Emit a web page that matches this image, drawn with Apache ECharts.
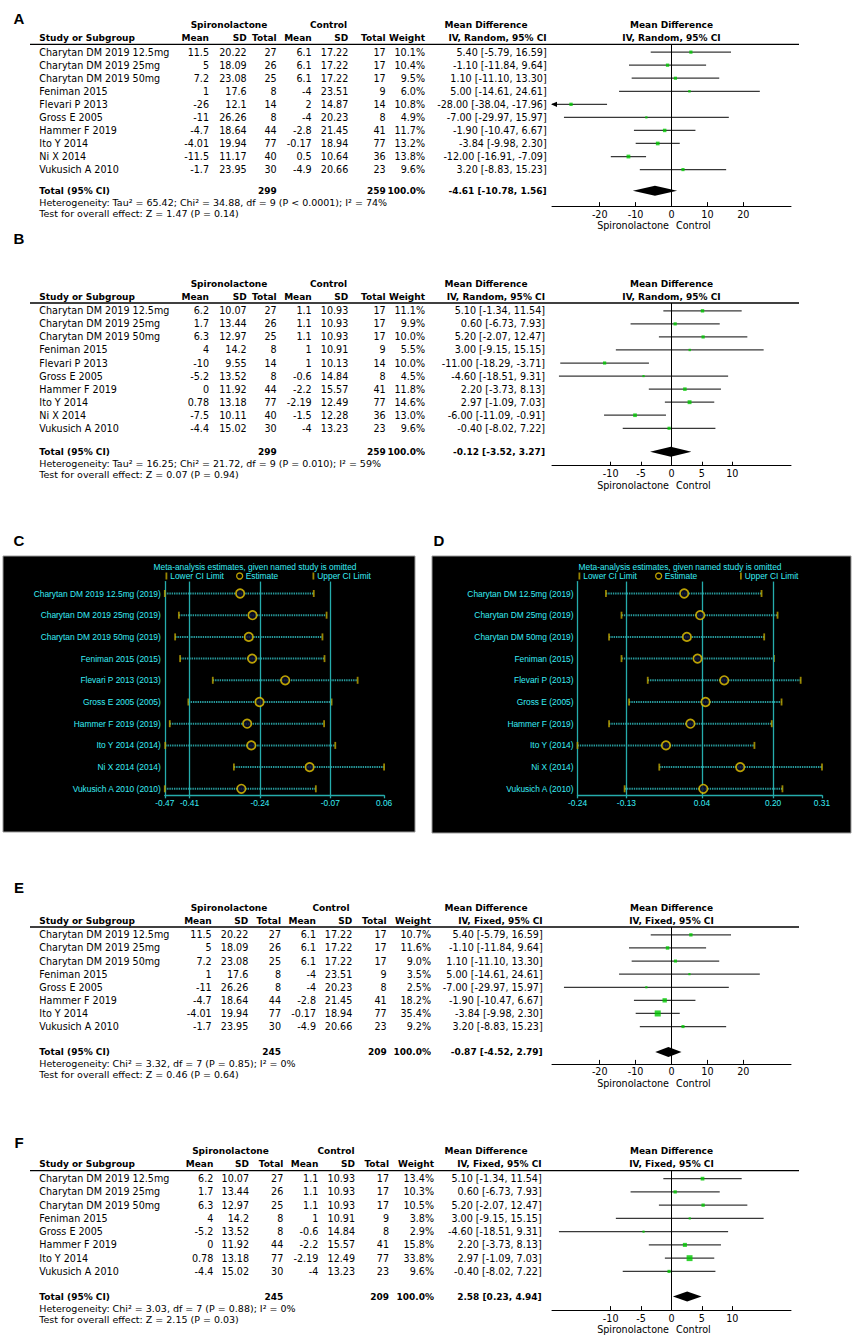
<!DOCTYPE html>
<html>
<head>
<meta charset="utf-8">
<title>Spironolactone meta-analysis forest plots</title>
<script src="https://cdn.jsdelivr.net/npm/echarts@6.0.0/dist/echarts.min.js"></script>
<style>
html,body{margin:0;padding:0;background:#ffffff;}
#chart{width:854px;height:1339px;}
</style>
</head>
<body>
<div id="chart"></div>
<script>
// ===================== DATA =====================
const studies10 = ["Charytan DM 2019 12.5mg","Charytan DM 2019 25mg","Charytan DM 2019 50mg","Feniman 2015","Flevari P 2013","Gross E 2005","Hammer F 2019","Ito Y 2014","Ni X 2014","Vukusich A 2010"];
const studies8 = ["Charytan DM 2019 12.5mg","Charytan DM 2019 25mg","Charytan DM 2019 50mg","Feniman 2015","Gross E 2005","Hammer F 2019","Ito Y 2014","Vukusich A 2010"];

// Panel A (random effects)
const A_spMean = [11.5,5,7.2,1,-26,-11,-4.7,-4.01,-11.5,-1.7];
const A_spSD   = [20.22,18.09,23.08,17.6,12.1,26.26,18.64,19.94,11.17,23.95];
const A_spN    = [27,26,25,8,14,8,44,77,40,30];
const A_ctMean = [6.1,6.1,6.1,-4,2,-4,-2.8,-0.17,0.5,-4.9];
const A_ctSD   = [17.22,17.22,17.22,23.51,14.87,20.23,21.45,18.94,10.64,20.66];
const A_ctN    = [17,17,17,9,14,8,41,77,36,23];
const A_weight = [10.1,10.4,9.5,6.0,10.8,4.9,11.7,13.2,13.8,9.6];
const A_md     = [5.40,-1.10,1.10,5.00,-28.00,-7.00,-1.90,-3.84,-12.00,3.20];
const A_lo     = [-5.79,-11.84,-11.10,-14.61,-38.04,-29.97,-10.47,-9.98,-16.91,-8.83];
const A_hi     = [16.59,9.64,13.30,24.61,-17.96,15.97,6.67,2.30,-7.09,15.23];
const A_total  = [-4.61,-10.78,1.56];
const A_totN   = [299,259];
const A_het    = "Heterogeneity: Tau\u00b2 = 65.42; Chi\u00b2 = 34.88, df = 9 (P < 0.0001); I\u00b2 = 74%";
const A_test   = "Test for overall effect: Z = 1.47 (P = 0.14)";

// Panel B (random effects)
const B_spMean = [6.2,1.7,6.3,4,-10,-5.2,0,0.78,-7.5,-4.4];
const B_spSD   = [10.07,13.44,12.97,14.2,9.55,13.52,11.92,13.18,10.11,15.02];
const B_spN    = [27,26,25,8,14,8,44,77,40,30];
const B_ctMean = [1.1,1.1,1.1,1,1,-0.6,-2.2,-2.19,-1.5,-4];
const B_ctSD   = [10.93,10.93,10.93,10.91,10.13,14.84,15.57,12.49,12.28,13.23];
const B_ctN    = [17,17,17,9,14,8,41,77,36,23];
const B_weight = [11.1,9.9,10.0,5.5,10.0,4.5,11.8,14.6,13.0,9.6];
const B_md     = [5.10,0.60,5.20,3.00,-11.00,-4.60,2.20,2.97,-6.00,-0.40];
const B_lo     = [-1.34,-6.73,-2.07,-9.15,-18.29,-18.51,-3.73,-1.09,-11.09,-8.02];
const B_hi     = [11.54,7.93,12.47,15.15,-3.71,9.31,8.13,7.03,-0.91,7.22];
const B_total  = [-0.12,-3.52,3.27];
const B_totN   = [299,259];
const B_het    = "Heterogeneity: Tau\u00b2 = 16.25; Chi\u00b2 = 21.72, df = 9 (P = 0.010); I\u00b2 = 59%";
const B_test   = "Test for overall effect: Z = 0.07 (P = 0.94)";

// Panel E (fixed effect)
const E_spMean = [11.5,5,7.2,1,-11,-4.7,-4.01,-1.7];
const E_spSD   = [20.22,18.09,23.08,17.6,26.26,18.64,19.94,23.95];
const E_spN    = [27,26,25,8,8,44,77,30];
const E_ctMean = [6.1,6.1,6.1,-4,-4,-2.8,-0.17,-4.9];
const E_ctSD   = [17.22,17.22,17.22,23.51,20.23,21.45,18.94,20.66];
const E_ctN    = [17,17,17,9,8,41,77,23];
const E_weight = [10.7,11.6,9.0,3.5,2.5,18.2,35.4,9.2];
const E_md     = [5.40,-1.10,1.10,5.00,-7.00,-1.90,-3.84,3.20];
const E_lo     = [-5.79,-11.84,-11.10,-14.61,-29.97,-10.47,-9.98,-8.83];
const E_hi     = [16.59,9.64,13.30,24.61,15.97,6.67,2.30,15.23];
const E_total  = [-0.87,-4.52,2.79];
const E_totN   = [245,209];
const E_het    = "Heterogeneity: Chi\u00b2 = 3.32, df = 7 (P = 0.85); I\u00b2 = 0%";
const E_test   = "Test for overall effect: Z = 0.46 (P = 0.64)";

// Panel F (fixed effect)
const F_spMean = [6.2,1.7,6.3,4,-5.2,0,0.78,-4.4];
const F_spSD   = [10.07,13.44,12.97,14.2,13.52,11.92,13.18,15.02];
const F_spN    = [27,26,25,8,8,44,77,30];
const F_ctMean = [1.1,1.1,1.1,1,-0.6,-2.2,-2.19,-4];
const F_ctSD   = [10.93,10.93,10.93,10.91,14.84,15.57,12.49,13.23];
const F_ctN    = [17,17,17,9,8,41,77,23];
const F_weight = [13.4,10.3,10.5,3.8,2.9,15.8,33.8,9.6];
const F_md     = [5.10,0.60,5.20,3.00,-4.60,2.20,2.97,-0.40];
const F_lo     = [-1.34,-6.73,-2.07,-9.15,-18.51,-3.73,-1.09,-8.02];
const F_hi     = [11.54,7.93,12.47,15.15,9.31,8.13,7.03,7.22];
const F_total  = [2.58,0.23,4.94];
const F_totN   = [245,209];
const F_het    = "Heterogeneity: Chi\u00b2 = 3.03, df = 7 (P = 0.88); I\u00b2 = 0%";
const F_test   = "Test for overall effect: Z = 2.15 (P = 0.03)";

// Axis tick labels of forest plots
const ticksWide   = [-20,-10,0,10,20];
const ticksNarrow = [-10,-5,0,5,10];

// Panel C (sensitivity analysis)
const C_labels = ["Charytan DM 2019 12.5mg (2019)","Charytan DM 2019 25mg (2019)","Charytan DM 2019 50mg (2019)","Feniman 2015 (2015)","Flevari P 2013 (2013)","Gross E 2005 (2005)","Hammer F 2019 (2019)","Ito Y 2014 (2014)","Ni X 2014 (2014)","Vukusich A 2010 (2010)"];
const C_est   = [-0.288,-0.258,-0.267,-0.259,-0.179,-0.241,-0.271,-0.261,-0.120,-0.285];
const C_lower = [-0.470,-0.436,-0.445,-0.433,-0.354,-0.413,-0.458,-0.469,-0.303,-0.470];
const C_upper = [-0.110,-0.079,-0.089,-0.084,-0.004,-0.067,-0.085,-0.058,0.060,-0.105];
const C_refs  = [-0.41,-0.24,-0.07];
const C_ticks = [-0.47,-0.41,-0.24,-0.07,0.06];

// Panel D (sensitivity analysis)
const D_labels = ["Charytan DM 12.5mg (2019)","Charytan DM 25mg (2019)","Charytan DM 50mg (2019)","Feniman (2015)","Flevari P (2013)","Gross E (2005)","Hammer F (2019)","Ito Y (2014)","Ni X (2014)","Vukusich A (2010)"];
const D_est   = [0.000,0.036,0.006,0.030,0.090,0.048,0.014,-0.041,0.126,0.043];
const D_lower = [-0.176,-0.141,-0.169,-0.141,-0.082,-0.124,-0.169,-0.240,-0.056,-0.134];
const D_upper = [0.174,0.210,0.180,0.202,0.262,0.219,0.197,0.158,0.310,0.221];
const D_refs  = [-0.13,0.04,0.20];
const D_ticks = [-0.24,-0.13,0.04,0.20,0.31];

// ===================== LAYOUT / STYLE =====================
const FF = "'DejaVu Sans', Verdana, sans-serif";
const AF = "'Liberation Sans', Arial, sans-serif";
const REG = s => s + "px " + FF;
const BOLD = s => "bold " + s + "px " + FF;
const FS = 9.6, FSB = 9.0, FSH = 9.5;
const PLOT_L = 552, PLOT_W = 239;
const CYAN = '#38ecf4', TEAL = '#25acac', DOTC = '#279a9c', OLIVE = '#bfa600', YEL = '#e8c800';

// layout of each forest panel: top = header rule, rows in row units (row 0 = first study)
const forestPanels = [
  {letter:'A', letterY:18, top:44.3, step:13.05, totRow:10.62, axisRow:11.8, range:33.3, ticks:ticksWide, method:'IV, Random, 95% CI',
   cols:{name:39.3,m1:209,s1:246.7,n1:276.7,m2:311.7,s2:348.3,n2:385.7,w:425,md:546.7,h1:229,h2:328.5,mdh:486},
   names:studies10, m1:A_spMean, s1:A_spSD, n1:A_spN, m2:A_ctMean, s2:A_ctSD, n2:A_ctN, w:A_weight,
   md:A_md, lo:A_lo, hi:A_hi, total:A_total, totN:A_totN, het:A_het, test:A_test},
  {letter:'B', letterY:238, top:303, step:13.05, totRow:10.8, axisRow:11.87, range:19.65, ticks:ticksNarrow, method:'IV, Random, 95% CI',
   cols:{name:39.3,m1:209,s1:246.7,n1:276.7,m2:311.7,s2:348.3,n2:385.7,w:425,md:545,h1:229,h2:328.5,mdh:486},
   names:studies10, m1:B_spMean, s1:B_spSD, n1:B_spN, m2:B_ctMean, s2:B_ctSD, n2:B_ctN, w:B_weight,
   md:B_md, lo:B_lo, hi:B_hi, total:B_total, totN:B_totN, het:B_het, test:B_test},
  {letter:'E', letterY:887, top:927, step:13.1, totRow:8.95, axisRow:9.85, range:33.3, ticks:ticksWide, method:'IV, Fixed, 95% CI',
   cols:{name:39.3,m1:211.7,s1:248.3,n1:281,m2:316,s2:352.3,n2:386.7,w:431,md:542.7,h1:229,h2:331,mdh:486},
   names:studies8, m1:E_spMean, s1:E_spSD, n1:E_spN, m2:E_ctMean, s2:E_ctSD, n2:E_ctN, w:E_weight,
   md:E_md, lo:E_lo, hi:E_hi, total:E_total, totN:E_totN, het:E_het, test:E_test},
  {letter:'F', letterY:1142, top:1170.7, step:13.25, totRow:8.9, axisRow:9.92, range:19.65, ticks:ticksNarrow, method:'IV, Fixed, 95% CI',
   cols:{name:39.3,m1:213.3,s1:249,n1:283.3,m2:318.3,s2:355,n2:389,w:434,md:541.7,h1:230.5,h2:336,mdh:486},
   names:studies8, m1:F_spMean, s1:F_spSD, n1:F_spN, m2:F_ctMean, s2:F_ctSD, n2:F_ctN, w:F_weight,
   md:F_md, lo:F_lo, hi:F_hi, total:F_total, totN:F_totN, het:F_het, test:F_test}
];

const sensPanels = [
  {letter:'C', letterX:19, letterY:540, box:[3,556,412,276], left:164.8, width:219.3, min:-0.47, max:0.06,
   labels:C_labels, est:C_est, lower:C_lower, upper:C_upper, refs:C_refs, ticks:C_ticks,
   titleX:255, legendX:[165.5,236,312.5]},
  {letter:'D', letterX:439, letterY:540, box:[432,556,419,277], left:577.5, width:244.5, min:-0.24, max:0.31,
   labels:D_labels, est:D_est, lower:D_lower, upper:D_upper, refs:D_refs, ticks:D_ticks,
   titleX:680, legendX:[578.5,655,740]}
];
const SENS_ROW0 = 593.5, SENS_STEP = 21.7, SENS_YMIN = -0.55, SENS_YMAX = 9.3;

// ===================== BUILD =====================
const grids = [], xAxes = [], yAxes = [], series = [], gfx = [], legends = [];

function txt(text, x, y, font, align, color, extra) {
  return Object.assign({
    type:'text', x:x, y:y, silent:true,
    style:{text:text, font:font, fill:color || '#000', align:align || 'left', verticalAlign:'middle',
           textAlign:align || 'left', textVerticalAlign:'middle'}
  }, extra || {});
}
const f2 = v => v.toFixed(2);
const mdText = (m, l, h) => f2(m) + ' [' + f2(l) + ', ' + f2(h) + ']';

function addForest(p) {
  const gi = grids.length;
  const ymin = -0.6, totRow = p.totRow, ymax = p.axisRow;
  const height = (ymax - ymin) * p.step;
  const rowY = r => p.top + (r - ymin) * p.step;
  const zeroX = PLOT_L + PLOT_W / 2;
  const axisY = p.top + height;
  const c = p.cols;

  grids.push({left:PLOT_L, top:p.top, width:PLOT_W, height:height, containLabel:false});
  xAxes.push({gridIndex:gi, type:'value', min:-p.range, max:p.range, position:'bottom',
    axisLine:{show:true, onZero:false, lineStyle:{color:'#000', width:1}},
    axisTick:{show:true, inside:true, length:4, customValues:p.ticks, lineStyle:{color:'#000', width:1}},
    axisLabel:{show:true, customValues:p.ticks, margin:3, color:'#000', fontFamily:FF, fontSize:FS,
               formatter: v => String(v)},
    splitLine:{show:false}});
  yAxes.push({gridIndex:gi, type:'value', inverse:true, min:ymin, max:ymax, show:false,
    axisLine:{onZero:false}});

  // confidence interval whiskers
  series.push({type:'custom', name:p.letter + ' CI', xAxisIndex:gi, yAxisIndex:gi, silent:true, clip:false, z:3,
    data:p.lo.map((l, i) => [l, p.hi[i], i]), encode:{x:[0,1], y:2},
    renderItem:(params, api) => {
      const lo = api.value(0), hi = api.value(1), r = api.value(2);
      const a = api.coord([Math.max(lo, -p.range), r]);
      const b = api.coord([Math.min(hi, p.range), r]);
      const ch = [{type:'line', shape:{x1:a[0], y1:a[1], x2:b[0], y2:b[1]},
                   style:{stroke:'#383838', lineWidth:1.25}}];
      if (lo < -p.range) ch.push({type:'polygon', shape:{points:[[a[0]-1,a[1]],[a[0]+5,a[1]-2.6],[a[0]+5,a[1]+2.6]]}, style:{fill:'#000'}});
      if (hi > p.range) ch.push({type:'polygon', shape:{points:[[b[0]+1,b[1]],[b[0]-5,b[1]-2.6],[b[0]-5,b[1]+2.6]]}, style:{fill:'#000'}});
      return {type:'group', children:ch};
    }});
  // study point estimates (square size follows weight)
  series.push({type:'scatter', name:p.letter + ' MD', xAxisIndex:gi, yAxisIndex:gi, silent:true, z:4,
    symbol:'rect', itemStyle:{color:'#00c800'},
    data:p.md.map((m, i) => ({value:[m, i], symbolSize:Math.max(2.2, Math.sqrt(p.w[i]) * 1.02)})),
    markLine:{silent:true, symbol:['none','none'], label:{show:false}, animation:false,
      lineStyle:{color:'#000', width:1, type:'solid'}, data:[{xAxis:0}]}});
  // pooled diamond + total row texts
  series.push({type:'custom', name:p.letter + ' total', xAxisIndex:gi, yAxisIndex:gi, silent:true, clip:false, z:4,
    data:[[p.total[1], p.total[0], p.total[2], totRow]], encode:{x:[0,1,2], y:3},
    renderItem:(params, api) => {
      const r = api.value(3);
      const L = api.coord([api.value(0), r]), M = api.coord([api.value(1), r]), R = api.coord([api.value(2), r]);
      const hh = 5, y = M[1];
      return {type:'group', children:[
        {type:'polygon', shape:{points:[[L[0],y],[M[0],y-hh],[R[0],y],[M[0],y+hh]]}, style:{fill:'#000'}},
        txt('Total (95% CI)', c.name, y, BOLD(FSB)),
        txt(String(p.totN[0]), c.n1, y, BOLD(FSB), 'right'),
        txt(String(p.totN[1]), c.n2, y, BOLD(FSB), 'right'),
        txt('100.0%', c.w, y, BOLD(FSB), 'right'),
        txt(mdText(api.value(1), api.value(0), api.value(2)), c.md, y, BOLD(FSB), 'right')
      ]};
    }});
  // study table rows
  series.push({type:'custom', name:p.letter + ' table', xAxisIndex:gi, yAxisIndex:gi, silent:true, clip:false, z:5,
    data:p.md.map((m, i) => [m, i]), encode:{x:0, y:1},
    renderItem:(params, api) => {
      const i = params.dataIndex;
      const y = api.coord([0, api.value(1)])[1];
      const f = REG(FS);
      return {type:'group', children:[
        txt(p.names[i], c.name, y, f),
        txt(String(p.m1[i]), c.m1, y, f, 'right'),
        txt(String(p.s1[i]), c.s1, y, f, 'right'),
        txt(String(p.n1[i]), c.n1, y, f, 'right'),
        txt(String(p.m2[i]), c.m2, y, f, 'right'),
        txt(String(p.s2[i]), c.s2, y, f, 'right'),
        txt(String(p.n2[i]), c.n2, y, f, 'right'),
        txt(p.w[i].toFixed(1) + '%', c.w, y, f, 'right'),
        txt(mdText(p.md[i], p.lo[i], p.hi[i]), c.md, y, f, 'right')
      ]};
    }});

  // static texts
  const h1 = p.top - 19.5, h2 = p.top - 6.5, hb = BOLD(FSB);
  gfx.push(txt(p.letter, 19, p.letterY, "bold 15px " + AF, 'center'));
  gfx.push(txt('Spironolactone', c.h1, h1, hb, 'center'));
  gfx.push(txt('Control', c.h2, h1, hb, 'center'));
  gfx.push(txt('Mean Difference', c.mdh, h1, hb, 'center'));
  gfx.push(txt('Mean Difference', zeroX, h1, hb, 'center'));
  gfx.push(txt('Study or Subgroup', c.name, h2, hb));
  gfx.push(txt('Mean', c.m1, h2, hb, 'right'));
  gfx.push(txt('SD', c.s1, h2, hb, 'right'));
  gfx.push(txt('Total', c.n1, h2, hb, 'right'));
  gfx.push(txt('Mean', c.m2, h2, hb, 'right'));
  gfx.push(txt('SD', c.s2, h2, hb, 'right'));
  gfx.push(txt('Total', c.n2, h2, hb, 'right'));
  gfx.push(txt('Weight', c.w, h2, hb, 'right'));
  gfx.push(txt(p.method, c.md, h2, hb, 'right'));
  gfx.push(txt(p.method, zeroX, h2, hb, 'center'));
  gfx.push({type:'line', silent:true, shape:{x1:30, y1:p.top, x2:799, y2:p.top}, style:{stroke:'#000', lineWidth:1.3}});
  const ty = rowY(totRow);
  gfx.push(txt(p.het, c.name, ty + 11.5, REG(FSH)));
  gfx.push(txt(p.test, c.name, ty + 22.5, REG(FSH)));
  gfx.push(txt('Spironolactone', zeroX - 2.5, axisY + 19.5, REG(FS), 'right'));
  gfx.push(txt('Control', zeroX + 4.5, axisY + 19.5, REG(FS), 'left'));
}

function addSens(q) {
  const gi = grids.length;
  const top = SENS_ROW0 + SENS_YMIN * SENS_STEP;
  const height = (SENS_YMAX - SENS_YMIN) * SENS_STEP;
  const rows = q.labels.map((_, i) => i);
  grids.push({left:q.left, top:top, width:q.width, height:height, containLabel:false});
  xAxes.push({gridIndex:gi, type:'value', min:q.min, max:q.max, position:'bottom',
    axisLine:{show:true, onZero:false, lineStyle:{color:TEAL, width:1.3}},
    axisTick:{show:true, length:3, customValues:q.ticks, lineStyle:{color:TEAL, width:1.3}},
    axisLabel:{show:true, customValues:q.ticks, margin:4, color:CYAN, fontFamily:AF, fontSize:8.4,
               formatter: v => v.toFixed(2)},
    splitLine:{show:false}});
  yAxes.push({gridIndex:gi, type:'value', inverse:true, min:SENS_YMIN, max:SENS_YMAX, position:'left',
    axisLine:{show:true, onZero:false, lineStyle:{color:TEAL, width:1.3}},
    axisTick:{show:false},
    axisLabel:{show:true, customValues:rows, margin:4, color:CYAN, fontFamily:AF, fontSize:8.4,
               formatter: v => q.labels[Math.round(v)]},
    splitLine:{show:false}});
  // dotted interval lines
  series.push({type:'custom', name:q.letter + ' interval', xAxisIndex:gi, yAxisIndex:gi, silent:true, z:3,
    data:q.lower.map((l, i) => [l, q.upper[i], i]), encode:{x:[0,1], y:2},
    renderItem:(params, api) => {
      const a = api.coord([api.value(0), api.value(2)]), b = api.coord([api.value(1), api.value(2)]);
      return {type:'line', shape:{x1:a[0], y1:a[1], x2:b[0], y2:b[1]},
              style:{stroke:DOTC, lineWidth:2, lineDash:[1.4,0.9]}};
    },
    markLine:{silent:true, symbol:['none','none'], label:{show:false}, animation:false,
      lineStyle:{color:TEAL, width:1.3, type:'solid'}, data:q.refs.map(v => ({xAxis:v}))}});
  series.push({type:'scatter', name:'Lower CI Limit', xAxisIndex:gi, yAxisIndex:gi, silent:true, z:4,
    symbol:'rect', symbolSize:[1.8,7], itemStyle:{color:OLIVE},
    data:q.lower.map((v, i) => [v, i])});
  series.push({type:'scatter', name:'Upper CI Limit', xAxisIndex:gi, yAxisIndex:gi, silent:true, z:4,
    symbol:'rect', symbolSize:[1.8,7], itemStyle:{color:OLIVE},
    data:q.upper.map((v, i) => [v, i])});
  series.push({type:'scatter', name:'Estimate', xAxisIndex:gi, yAxisIndex:gi, silent:true, z:5,
    symbol:'circle', symbolSize:8.5, itemStyle:{color:'#0a0a2a', borderColor:YEL, borderWidth:1.7},
    data:q.est.map((v, i) => [v, i])});

  // panel background and captions
  gfx.push({type:'rect', silent:true, z:-10, shape:{x:q.box[0], y:q.box[1], width:q.box[2], height:q.box[3]},
            style:{fill:'#000', stroke:'#9a9a9a', lineWidth:1}});
  gfx.push(txt(q.letter, q.letterX, q.letterY, "bold 15px " + AF, 'center'));
  gfx.push(txt('Meta-analysis estimates, given named study is omitted', q.titleX, 566.5, "8.4px " + AF, 'center', CYAN));
  const names = ['Lower CI Limit','Estimate','Upper CI Limit'];
  names.forEach((nm, k) => {
    const isEst = nm === 'Estimate';
    legends.push({show:true, selectedMode:false, left:q.legendX[k], top:572, orient:'horizontal', padding:0,
      itemGap:0, itemWidth:isEst ? 6 : 1.8, itemHeight:isEst ? 6 : 7,
      data:[{name:nm, icon:isEst ? 'circle' : 'rect'}],
      itemStyle: isEst ? {color:'#000', borderColor:YEL, borderWidth:1.3} : {color:OLIVE, borderWidth:0},
      textStyle:{color:CYAN, fontFamily:AF, fontSize:8.4, padding:[0,0,0,-2]}});
  });
}

forestPanels.slice(0, 2).forEach(addForest);
sensPanels.forEach(addSens);
forestPanels.slice(2).forEach(addForest);

const chart = echarts.init(document.getElementById('chart'), null, {renderer:'svg', width:854, height:1339});
chart.setOption({
  animation:false,
  backgroundColor:'#ffffff',
  grid:grids, xAxis:xAxes, yAxis:yAxes, series:series, legend:legends,
  graphic:{elements:gfx}
});
</script>
</body>
</html>
